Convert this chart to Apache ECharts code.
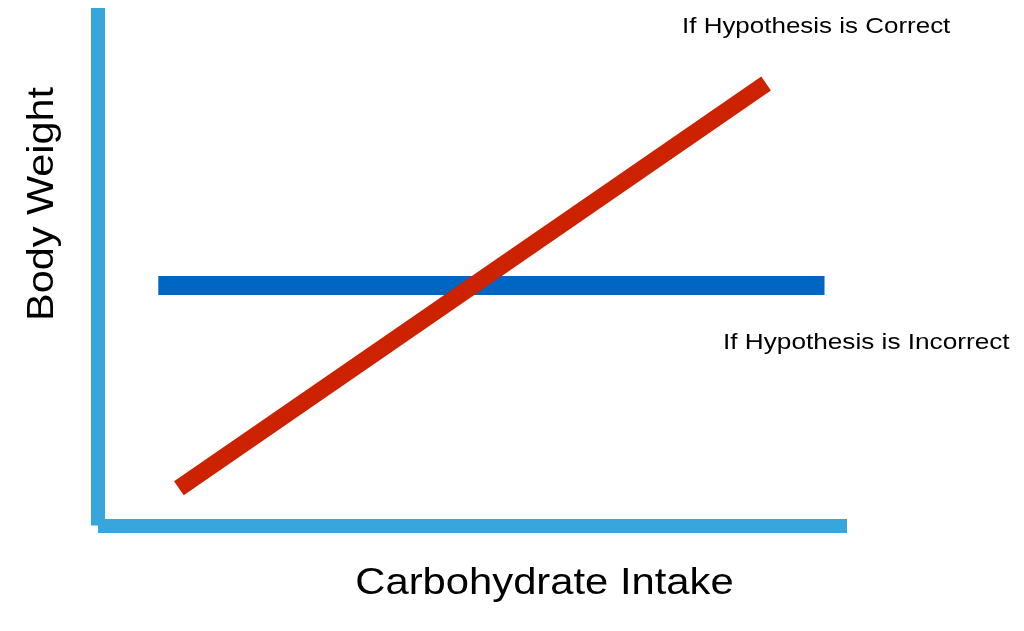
<!DOCTYPE html>
<html>
<head>
<meta charset="utf-8">
<script src="https://cdn.jsdelivr.net/npm/echarts@6/dist/echarts.min.js"></script>
<style>html,body{margin:0;padding:0;background:#fff}#c{width:1024px;height:631px}</style>
</head>
<body>
<div id="c"></div>
<script>
// Conceptual chart, arbitrary units 0..100 on both axes
var xAxisName = 'Carbohydrate Intake';
var yAxisName = 'Body Weight';
var correctLabel = 'If Hypothesis is Correct';
var incorrectLabel = 'If Hypothesis is Incorrect';
var correctX = [10.8, 89.2];
var correctY = [7.2, 85.4];
var incorrectX = [8.05, 97.0];
var incorrectY = [46.4, 46.4];

function pairs(xs, ys){ return xs.map(function(x,i){ return [x, ys[i]]; }); }

var chart = echarts.init(document.getElementById('c'), null, {renderer:'canvas'});
var font = '"Liberation Sans", Arial, sans-serif';
chart.setOption({
  animation: false,
  backgroundColor: '#ffffff',
  grid: {left: 98, right: 177, top: 8, bottom: 105.5, containLabel: false},
  xAxis: {
    type: 'value', min: 0, max: 100,
    axisLine: {show: true, onZero: false, lineStyle: {color: '#37a6dc', width: 14, cap: 'butt'}},
    axisTick: {show: false}, axisLabel: {show: false}, splitLine: {show: false}
  },
  yAxis: {
    type: 'value', min: 0, max: 100,
    axisLine: {show: true, onZero: false, lineStyle: {color: '#37a6dc', width: 14, cap: 'butt'}},
    axisTick: {show: false}, axisLabel: {show: false}, splitLine: {show: false}
  },
  series: [
    {
      name: incorrectLabel, type: 'line', data: pairs(incorrectX, incorrectY),
      symbol: 'none', lineStyle: {color: '#0066c4', width: 19, cap: 'butt'}, z: 3
    },
    {
      name: correctLabel, type: 'line', data: pairs(correctX, correctY),
      symbol: 'none', lineStyle: {color: '#cc2200', width: 17, cap: 'butt'}, z: 4
    }
  ],
  graphic: [
    {type: 'text', x: 682, y: 27, scaleX: 1.18, style: {text: correctLabel, font: '22px ' + font, fill: '#000', align: 'left', verticalAlign: 'middle'}},
    {type: 'text', x: 723, y: 343, scaleX: 1.19, style: {text: incorrectLabel, font: '22px ' + font, fill: '#000', align: 'left', verticalAlign: 'middle'}},
    {type: 'text', x: 544.5, y: 584, scaleX: 1.16, style: {text: xAxisName, font: '36px ' + font, fill: '#000', align: 'center', verticalAlign: 'middle'}},
    {type: 'text', x: 43, y: 204, rotation: Math.PI/2, scaleX: 1.15, style: {text: yAxisName, font: '36px ' + font, fill: '#000', align: 'center', verticalAlign: 'middle'}}
  ]
});
</script>
</body>
</html>
